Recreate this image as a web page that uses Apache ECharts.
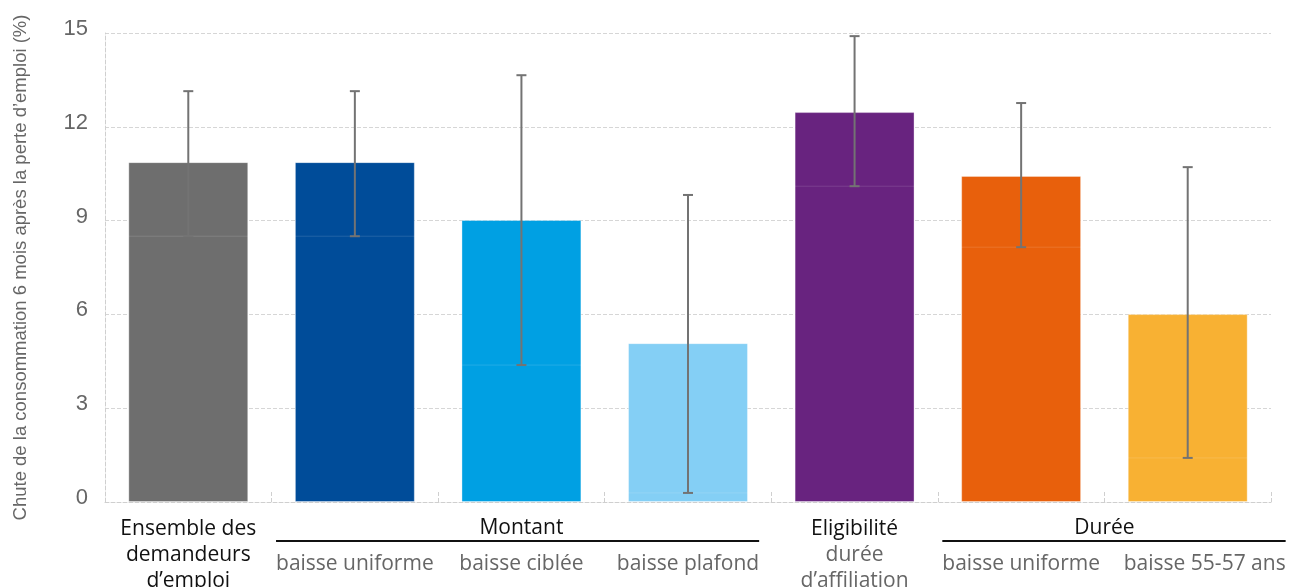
<!DOCTYPE html>
<html><head><meta charset="utf-8">
<script src="https://cdn.jsdelivr.net/npm/echarts@6/dist/echarts.min.js"></script>
<style>html,body{margin:0;padding:0;background:#fff}#c{width:1293px;height:587px}</style>
</head><body><div id="c"></div>
<script>
const categories = ['Ensemble','Montant uniforme','Montant ciblée','Montant plafond','Eligibilité','Durée uniforme','Durée 55-57'];
const mainLabels = [['Ensemble des','demandeurs','d’emploi'],[],[],[],['Eligibilité'],[],[]];
const subLabels = [[],['baisse uniforme'],['baisse ciblée'],['baisse plafond'],['durée','d’affiliation'],['baisse uniforme'],['baisse 55-57 ans']];
const values = [10.87,10.87,9.02,5.08,12.47,10.43,6.01];
const errLow = [8.5,8.5,4.38,0.29,10.1,8.15,1.41];
const errHigh = [13.14,13.14,13.65,9.82,14.9,12.76,10.71];
const colors = ['#6e6e6e','#004c99','#00a0e3','#84cff5','#68237f','#e8600c','#f8b133'];
const groups = [{name:'Montant', from:1, to:3}, {name:'Durée', from:5, to:6}];
const yTitle = 'Chute de la consommation 6 mois après la perte d’emploi (%)';

const LABEL_FONT = 'Open Sans';
const LABEL_SIZE = 21;
const LAST_SHIFT = 34; // last sub label sits slightly right of its bar

const chart = echarts.init(document.getElementById('c'), null, {renderer:'canvas'});

function catFormatter(v, idx){
  const m = mainLabels[idx], s = subLabels[idx];
  const sty = idx === categories.length - 1 ? 'sr' : 's';
  if (m.length === 0) {
    return '{sp| }\n' + s.map(t => '{' + sty + '|' + t + '}').join('\n');
  }
  return m.map(t => '{m|' + t + '}').concat(s.map(t => '{s|' + t + '}')).join('\n');
}

const option = {
  animation: false,
  grid: {left: 105, right: 22, top: 33, bottom: 85, containLabel: false, outerBoundsMode: 'none'},
  xAxis: {
    type: 'category',
    data: categories,
    axisLine: {show: true, lineStyle: {color: '#cfcfcf', type: 'dashed', width: 1}},
    axisTick: {show: true, inside: true, length: 10, lineStyle: {color: '#cfcfcf', type: 'dashed'}},
    axisLabel: {
      interval: 0, margin: 14, formatter: catFormatter,
      rich: {
        m: {color: '#111', fontSize: LABEL_SIZE, fontFamily: LABEL_FONT, lineHeight: 26},
        s: {color: '#666', fontSize: LABEL_SIZE, fontFamily: LABEL_FONT, lineHeight: 26},
        sr: {color: '#666', fontSize: LABEL_SIZE, fontFamily: LABEL_FONT, lineHeight: 26, padding: [0, 0, 0, LAST_SHIFT]},
        sp: {fontSize: 10, lineHeight: 35}
      }
    }
  },
  yAxis: {
    type: 'value', min: 0, max: 15, interval: 3,
    name: yTitle, nameLocation: 'middle', nameRotate: 90, nameGap: 75,
    nameTextStyle: {color: '#666', fontSize: 18.5, fontFamily: 'Liberation Sans, Arial, sans-serif'},
    axisLine: {show: true, lineStyle: {color: '#cfcfcf', type: 'dashed'}},
    axisTick: {show: false},
    axisLabel: {color: '#666', fontSize: 22, fontFamily: 'Liberation Sans, Arial, sans-serif', margin: 17, verticalAlign: 'bottom', lineHeight: 8},
    splitLine: {show: true, lineStyle: {color: '#d6d6d6', type: 'dashed'}}
  },
  series: [
    {
      type: 'bar',
      barWidth: '72%',
      data: values.map((v, i) => ({value: v, itemStyle: {color: colors[i]}})),
      itemStyle: {borderColor: 'rgba(255,255,255,0.35)', borderWidth: 1}
    },
    {
      type: 'custom',
      data: values.map((v, i) => [i, errLow[i], errHigh[i]]),
      renderItem: function(params, api){
        const x = api.value(0);
        const lo = api.coord([x, api.value(1)]);
        const hi = api.coord([x, api.value(2)]);
        const bw = api.size([1, 0])[0] * 0.72;
        const cap = 5;
        const st = {stroke: '#737373', lineWidth: 2};
        return {type: 'group', children: [
          {type: 'line', shape: {x1: lo[0] - bw/2, y1: lo[1], x2: lo[0] + bw/2, y2: lo[1]}, style: {stroke: 'rgba(255,255,255,0.13)', lineWidth: 1}},
          {type: 'line', shape: {x1: lo[0], y1: lo[1], x2: hi[0], y2: hi[1]}, style: st},
          {type: 'line', shape: {x1: hi[0] - cap, y1: hi[1], x2: hi[0] + cap, y2: hi[1]}, style: st},
          {type: 'line', shape: {x1: lo[0] - cap, y1: lo[1], x2: lo[0] + cap, y2: lo[1]}, style: st}
        ]};
      },
      z: 5
    }
  ]
};
chart.setOption(option);

// group headers and underline, placed through the axis scale
const ctx = document.createElement('canvas').getContext('2d');
ctx.font = LABEL_SIZE + 'px "' + LABEL_FONT + '"';
const gfx = [];
groups.forEach(g => {
  const cFrom = chart.convertToPixel({xAxisIndex: 0}, g.from);
  const cTo = chart.convertToPixel({xAxisIndex: 0}, g.to);
  const y0 = chart.convertToPixel({yAxisIndex: 0}, 0);
  const wFrom = ctx.measureText(subLabels[g.from][0]).width;
  let wTo = ctx.measureText(subLabels[g.to][0]).width;
  if (g.to === categories.length - 1) wTo += LAST_SHIFT;
  gfx.push({type: 'text', x: (cFrom + cTo) / 2, y: y0 + 26, style: {text: g.name, fill: '#111', font: LABEL_SIZE + 'px "' + LABEL_FONT + '"', textAlign: 'center', textVerticalAlign: 'middle'}});
  gfx.push({type: 'line', shape: {x1: cFrom - wFrom/2, y1: y0 + 39, x2: cTo + wTo/2, y2: y0 + 39}, style: {stroke: '#111', lineWidth: 2}});
});
chart.setOption({graphic: gfx});
</script></body></html>
